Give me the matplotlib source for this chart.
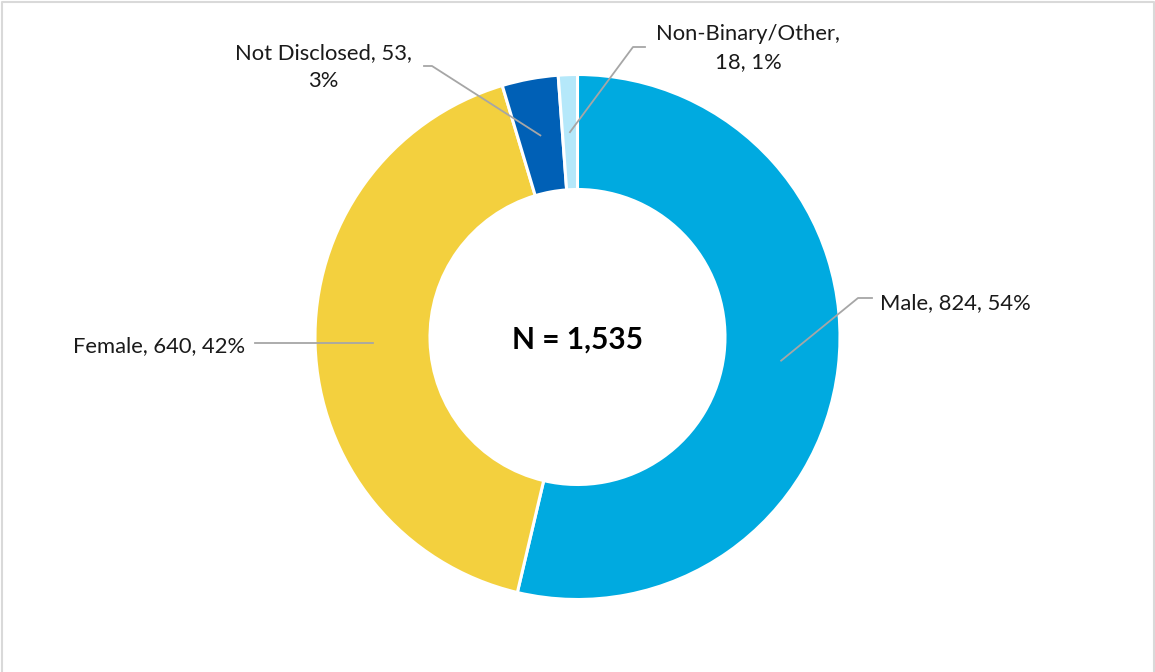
import numpy as np
import matplotlib
matplotlib.use("Agg")
import matplotlib.pyplot as plt
from matplotlib.lines import Line2D

categories = ["Male", "Female", "Not Disclosed", "Non-Binary/Other"]
counts = [824, 640, 53, 18]
percents = ["54%", "42%", "3%", "1%"]
colors = ["#00AAE0", "#F3D03E", "#0060B6", "#B5E8FA"]
total_label = "N = 1,535"

W, H = 1155, 672
plt.rcParams["font.family"] = ["Lato", "DejaVu Sans"]

fig = plt.figure(figsize=(W / 100, H / 100), dpi=100)
ax = fig.add_axes([0, 0, 1, 1])


def py(y):
    # pixel row (from top) -> data y
    return H - y


cx, cy = 577.5, py(337)
R, ring = 262.5, 115

wedges, _ = ax.pie(counts, colors=colors, startangle=90, counterclock=False,
                   radius=R, center=(cx, cy), frame=True,
                   wedgeprops=dict(width=ring, edgecolor="white", linewidth=2.2))
ax.set_xlim(0, W)
ax.set_ylim(0, H)
ax.set_aspect("equal")
ax.axis("off")

ax.text(cx, py(340), total_label, ha="center", va="center",
        fontsize=21.5, fontweight="bold", color="black")

# label layout: text position, alignment, elbow points (pixels from top)
labels = [
    dict(text=f"{categories[0]}, {counts[0]}, {percents[0]}", pos=(880, 303), ha="left",
         path=[(858, 298), (872, 298)]),
    dict(text=f"{categories[1]}, {counts[1]}, {percents[1]}", pos=(245, 346), ha="right",
         path=[(255, 343)]),
    dict(text=f"{categories[2]}, {counts[2]},\n{percents[2]}", pos=(323, 67), ha="center",
         path=[(432, 66), (424, 66)]),
    dict(text=f"{categories[3]},\n{counts[3]}, {percents[3]}", pos=(748, 48), ha="center",
         path=[(633, 47), (645, 47)]),
]

r_mid = R - ring / 2
for w, lab in zip(wedges, labels):
    ang = np.deg2rad((w.theta1 + w.theta2) / 2)
    x0 = cx + r_mid * np.cos(ang)
    y0 = cy + r_mid * np.sin(ang)
    xs = [x0] + [p[0] for p in lab["path"]]
    ys = [y0] + [py(p[1]) for p in lab["path"]]
    if lab["ha"] == "right":
        ys[1] = y0  # keep the Female leader horizontal
    ax.add_line(Line2D(xs, ys, color="#A6A6A6", linewidth=1.3, zorder=5))
    ax.text(lab["pos"][0], py(lab["pos"][1]), lab["text"], ha=lab["ha"], va="center",
            multialignment="center", fontsize=15.8, color="#1a1a1a", linespacing=1.45)

# chart frame (top, left, right)
frame_col = "#D9D9D9"
ax.add_line(Line2D([1.5, 1.5, W - 1.5, W - 1.5], [0, H - 1.5, H - 1.5, 0],
                   color=frame_col, linewidth=1.5))

fig.savefig("out.png", dpi=100)
